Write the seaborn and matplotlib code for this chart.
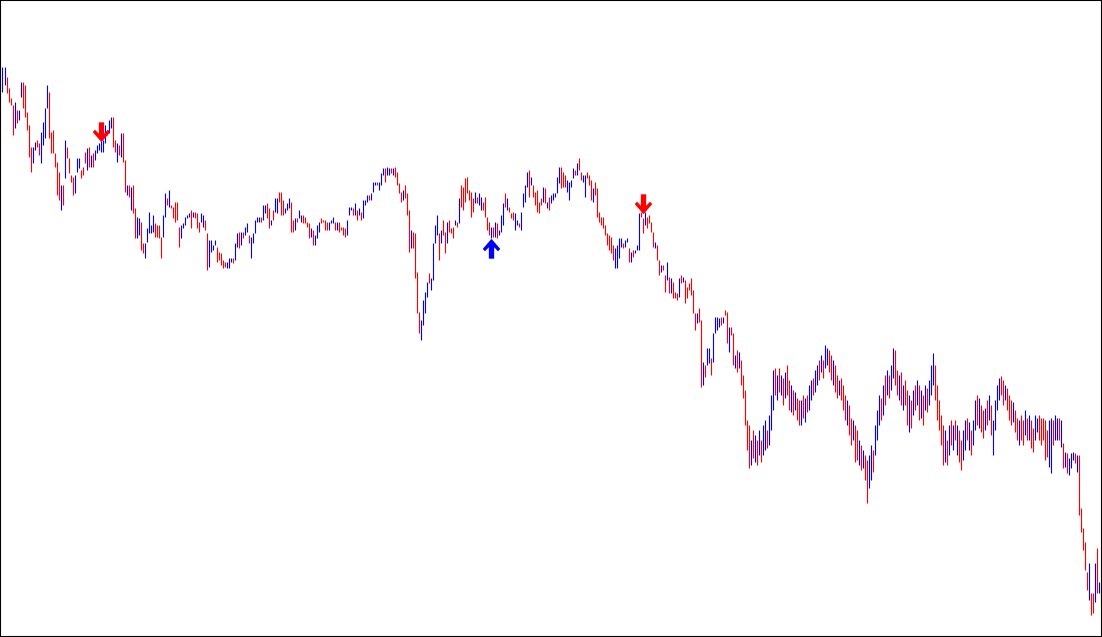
import numpy as np
import pandas as pd
import matplotlib
matplotlib.use('Agg')
import matplotlib.pyplot as plt
from matplotlib.path import Path
import seaborn as sns

# bar highs / lows (price points), one row = 10 bars
highs = [
    933, 933, 923, 912, 902, 895, 898, 890, 890, 918,
    918, 915, 888, 875, 853, 853, 858, 860, 857, 868,
    878, 892, 915, 908, 868, 870, 847, 838, 828, 815,
    815, 860, 853, 842, 825, 823, 825, 842, 842, 830,
    833, 848, 852, 853, 845, 847, 850, 855, 857, 863,
    860, 875, 870, 880, 883, 883, 860, 857, 855, 867,
    867, 840, 815, 815, 813, 815, 792, 783, 782, 778,
    757, 757, 772, 788, 775, 785, 777, 775, 775, 763,
    785, 807, 802, 810, 795, 793, 798, 798, 773, 775,
    777, 783, 785, 787, 790, 788, 788, 787, 778, 787,
    785, 780, 767, 760, 760, 755, 760, 753, 748, 747,
    740, 738, 738, 742, 742, 742, 757, 767, 768, 768,
    768, 773, 777, 765, 763, 767, 780, 783, 783, 783,
    795, 795, 797, 792, 780, 790, 802, 802, 808, 808,
    800, 792, 797, 802, 798, 780, 782, 782, 790, 785,
    785, 783, 778, 777, 772, 770, 765, 775, 778, 782,
    780, 780, 778, 778, 780, 783, 778, 778, 778, 773,
    773, 772, 780, 793, 793, 792, 797, 790, 792, 788,
    800, 800, 805, 805, 807, 818, 818, 818, 818, 827,
    832, 832, 833, 832, 832, 832, 833, 828, 817, 808,
    810, 815, 807, 790, 770, 768, 767, 728, 688, 680,
    700, 708, 718, 727, 722, 757, 775, 785, 767, 770,
    780, 768, 778, 780, 772, 773, 780, 778, 802, 815,
    813, 822, 823, 810, 808, 802, 808, 803, 807, 803,
    798, 803, 783, 778, 773, 773, 778, 777, 770, 785,
    797, 807, 802, 793, 787, 788, 787, 780, 777, 788,
    807, 815, 828, 830, 823, 815, 808, 810, 798, 802,
    813, 812, 798, 803, 805, 807, 807, 823, 833, 833,
    828, 825, 820, 818, 820, 832, 830, 837, 842, 828,
    825, 825, 828, 825, 820, 812, 818, 812, 788, 783,
    783, 775, 767, 765, 763, 755, 752, 755, 762, 762,
    757, 760, 762, 752, 748, 750, 750, 755, 787, 788,
    782, 788, 783, 785, 778, 768, 758, 755, 740, 735,
    735, 725, 738, 723, 722, 718, 708, 707, 722, 725,
    723, 720, 713, 717, 722, 710, 687, 687, 692, 680,
    638, 635, 652, 652, 642, 667, 683, 683, 682, 683,
    683, 690, 688, 673, 673, 667, 645, 650, 648, 640,
    625, 610, 580, 575, 560, 570, 565, 560, 570, 560,
    575, 580, 570, 585, 605, 630, 632, 625, 632, 625,
    622, 628, 635, 620, 615, 610, 608, 602, 600, 600,
    605, 602, 605, 615, 620, 622, 630, 635, 640, 645,
    640, 655, 652, 650, 645, 640, 635, 625, 620, 622,
    615, 605, 600, 595, 582, 580, 575, 570, 560, 555,
    550, 545, 540, 545, 555, 550, 575, 590, 605, 602,
    615, 625, 630, 625, 635, 652, 650, 630, 625, 628,
    615, 620, 610, 605, 600, 610, 615, 620, 615, 610,
    605, 615, 612, 620, 635, 647, 635, 615, 600, 585,
    575, 570, 560, 575, 580, 575, 580, 575, 570, 560,
    570, 580, 582, 578, 570, 580, 600, 605, 602, 595,
    590, 592, 600, 605, 595, 580, 600, 615, 622, 624,
    620, 615, 612, 605, 600, 598, 590, 582, 580, 585,
    580, 590, 582, 585, 580, 572, 585, 582, 585, 582,
    582, 580, 570, 580, 582, 580, 585, 582, 582, 580,
    557, 548, 547, 542, 547, 548, 547, 545, 545, 492,
    472, 458, 428, 437, 407, 407, 437, 452, 418, 413,
]

lows = [
    908, 915, 907, 898, 895, 865, 872, 877, 880, 903,
    892, 883, 870, 843, 828, 837, 850, 853, 845, 837,
    855, 862, 892, 862, 847, 847, 833, 805, 800, 790,
    795, 822, 842, 827, 818, 805, 807, 828, 832, 822,
    825, 837, 830, 833, 833, 833, 840, 847, 850, 848,
    848, 857, 865, 867, 872, 853, 848, 838, 845, 843,
    838, 808, 805, 803, 790, 787, 762, 762, 765, 750,
    747, 742, 758, 767, 767, 768, 763, 763, 762, 742,
    763, 783, 795, 793, 792, 782, 778, 780, 753, 762,
    772, 775, 782, 783, 772, 783, 782, 772, 768, 778,
    773, 770, 730, 733, 748, 750, 755, 738, 740, 735,
    732, 733, 732, 732, 738, 737, 740, 753, 752, 755,
    762, 765, 768, 757, 742, 757, 767, 778, 778, 778,
    780, 787, 782, 772, 775, 780, 788, 787, 798, 785,
    785, 787, 790, 792, 768, 768, 770, 778, 782, 778,
    777, 777, 773, 762, 763, 755, 755, 762, 768, 777,
    778, 770, 770, 770, 777, 777, 770, 770, 768, 770,
    765, 763, 765, 785, 790, 785, 785, 780, 785, 780,
    782, 795, 798, 800, 800, 808, 815, 815, 810, 815,
    825, 818, 825, 825, 827, 825, 823, 815, 807, 798,
    800, 802, 785, 748, 752, 752, 722, 687, 667, 660,
    675, 687, 703, 717, 710, 720, 757, 765, 740, 757,
    765, 747, 757, 768, 767, 762, 775, 773, 777, 793,
    790, 798, 807, 800, 783, 788, 797, 797, 795, 790,
    790, 783, 770, 765, 762, 763, 763, 762, 765, 768,
    775, 793, 790, 788, 782, 780, 770, 775, 773, 770,
    793, 798, 813, 803, 815, 803, 795, 788, 787, 795,
    798, 797, 792, 790, 797, 800, 803, 807, 817, 812,
    813, 813, 808, 800, 813, 822, 825, 825, 830, 820,
    818, 803, 822, 815, 800, 798, 805, 783, 778, 775,
    772, 765, 755, 750, 747, 740, 732, 732, 742, 753,
    752, 753, 758, 738, 738, 743, 747, 750, 750, 783,
    767, 775, 772, 777, 768, 753, 752, 740, 725, 728,
    730, 708, 720, 707, 707, 702, 702, 700, 703, 717,
    718, 697, 702, 710, 705, 687, 670, 677, 678, 613,
    615, 623, 635, 637, 625, 638, 667, 670, 673, 675,
    677, 685, 657, 648, 665, 635, 632, 628, 632, 615,
    602, 575, 550, 532, 535, 542, 538, 535, 545, 538,
    545, 550, 552, 555, 570, 590, 605, 600, 608, 605,
    595, 602, 605, 590, 588, 585, 590, 580, 575, 575,
    582, 578, 588, 590, 600, 605, 608, 615, 620, 628,
    622, 632, 635, 628, 620, 615, 608, 602, 605, 600,
    590, 580, 575, 565, 555, 560, 538, 540, 535, 530,
    532, 520, 497, 512, 520, 528, 545, 560, 575, 580,
    585, 595, 605, 602, 610, 622, 615, 605, 600, 595,
    590, 595, 575, 568, 572, 585, 590, 595, 580, 582,
    575, 590, 588, 595, 605, 615, 600, 580, 570, 555,
    535, 538, 535, 545, 555, 550, 560, 545, 538, 530,
    540, 550, 560, 550, 545, 555, 570, 575, 572, 568,
    562, 570, 575, 580, 565, 545, 570, 590, 600, 605,
    595, 600, 590, 580, 575, 578, 568, 560, 555, 560,
    555, 565, 560, 560, 552, 548, 560, 568, 560, 555,
    560, 540, 543, 533, 527, 555, 560, 560, 560, 553,
    532, 533, 527, 525, 532, 540, 537, 528, 485, 468,
    450, 430, 410, 400, 385, 387, 398, 407, 407, 393,
]

# 1 = up bar (blue), 0 = down bar (red)
up = [
    1, 1, 0, 0, 0, 0, 1, 0, 1, 1,
    0, 0, 0, 0, 0, 1, 1, 0, 0, 1,
    1, 1, 1, 0, 0, 0, 0, 0, 0, 1,
    0, 1, 0, 0, 0, 0, 1, 1, 1, 0,
    0, 0, 1, 0, 1, 0, 1, 1, 1, 1,
    1, 1, 0, 1, 1, 0, 0, 1, 0, 1,
    0, 0, 1, 0, 1, 0, 0, 1, 1, 0,
    0, 1, 1, 1, 1, 1, 0, 0, 0, 0,
    1, 1, 0, 1, 0, 0, 0, 0, 0, 1,
    1, 1, 1, 1, 0, 1, 0, 0, 0, 1,
    1, 0, 0, 1, 1, 1, 1, 0, 0, 0,
    0, 0, 1, 1, 1, 0, 1, 1, 0, 1,
    0, 1, 1, 0, 1, 1, 1, 1, 1, 0,
    1, 1, 0, 0, 1, 0, 1, 1, 0, 0,
    0, 1, 1, 1, 0, 0, 1, 0, 1, 1,
    0, 0, 0, 0, 1, 0, 1, 1, 1, 0,
    0, 0, 0, 1, 1, 1, 0, 1, 0, 0,
    0, 0, 1, 1, 1, 0, 1, 0, 1, 0,
    1, 1, 1, 0, 1, 1, 1, 0, 1, 1,
    1, 0, 1, 1, 0, 1, 0, 0, 0, 0,
    1, 0, 0, 0, 1, 0, 0, 0, 0, 1,
    1, 1, 1, 0, 1, 1, 1, 1, 0, 1,
    0, 0, 1, 0, 0, 0, 1, 0, 1, 0,
    0, 0, 0, 0, 0, 0, 1, 0, 1, 1,
    0, 0, 0, 0, 1, 0, 1, 0, 1, 1,
    1, 0, 1, 0, 0, 0, 1, 1, 0, 1,
    1, 1, 1, 0, 1, 0, 0, 0, 0, 0,
    1, 0, 1, 0, 1, 1, 1, 1, 1, 0,
    0, 0, 1, 1, 1, 1, 0, 1, 0, 0,
    1, 1, 0, 0, 0, 1, 0, 0, 0, 0,
    0, 0, 0, 0, 0, 0, 1, 1, 1, 1,
    0, 1, 1, 0, 1, 0, 1, 1, 1, 0,
    0, 1, 0, 0, 0, 0, 1, 0, 0, 1,
    0, 0, 1, 0, 1, 0, 0, 0, 1, 0,
    1, 0, 0, 0, 0, 0, 0, 1, 0, 0,
    1, 0, 1, 1, 0, 1, 1, 1, 1, 0,
    1, 0, 0, 1, 0, 0, 1, 0, 1, 0,
    0, 0, 0, 0, 1, 0, 1, 0, 1, 0,
    1, 1, 0, 1, 1, 1, 0, 1, 0, 1,
    0, 1, 0, 0, 1, 0, 1, 0, 0, 1,
    0, 1, 0, 1, 1, 0, 1, 1, 0, 1,
    0, 1, 1, 0, 0, 1, 0, 0, 1, 0,
    0, 0, 1, 0, 0, 1, 0, 0, 1, 0,
    1, 0, 0, 1, 1, 0, 1, 1, 1, 0,
    1, 0, 1, 0, 1, 1, 0, 0, 1, 0,
    1, 0, 0, 1, 0, 1, 0, 1, 0, 1,
    0, 1, 0, 1, 1, 1, 0, 0, 0, 0,
    0, 1, 0, 1, 0, 1, 0, 1, 0, 0,
    1, 1, 0, 1, 0, 1, 1, 0, 1, 0,
    0, 1, 0, 1, 0, 1, 1, 1, 1, 0,
    0, 1, 0, 0, 0, 1, 0, 0, 1, 0,
    0, 1, 0, 1, 0, 0, 1, 1, 0, 0,
    0, 0, 0, 1, 1, 0, 1, 1, 0, 1,
    0, 1, 0, 1, 1, 1, 0, 1, 0, 0,
    0, 0, 0, 1, 0, 0, 1, 0, 1, 0,
]

# signal arrows
signal_bar = [49, 244, 320]
signal_level = [868, 752, 796]
signal_dir = ['sell', 'buy', 'sell']

sns.set_style('white')

n = len(highs)
bars = pd.DataFrame({
    'bar': np.repeat(np.arange(n), 2),
    'price': np.column_stack([lows, highs]).ravel(),
    'dir': np.repeat(np.where(np.array(up) == 1, 'up', 'down'), 2),
})

fig = plt.figure(figsize=(11.02, 6.37), dpi=100)
ax = fig.add_axes([0, 0, 1, 1])

sns.lineplot(data=bars, x='bar', y='price', units='bar', estimator=None,
             hue='dir', palette={'up': '#0000ff', 'down': '#ff0000'},
             linewidth=0.8, solid_capstyle='butt', legend=False, ax=ax)

# thick arrow marker (pointing down), flipped for the buy signal
arrow_pts = [(-0.26, 1.0), (0.26, 1.0), (0.26, -0.12), (0.64, 0.28),
             (0.86, 0.04), (0.0, -0.95), (-0.86, 0.04), (-0.64, 0.28),
             (-0.26, -0.12), (-0.26, 1.0)]
down_arrow = Path(arrow_pts, closed=True)
up_arrow = Path([(x, -y) for x, y in arrow_pts], closed=True)

sig = pd.DataFrame({'bar': signal_bar, 'price': signal_level, 'dir': signal_dir})
sns.scatterplot(data=sig[sig.dir == 'sell'], x='bar', y='price', marker=down_arrow,
                color='#ff0000', s=215, linewidth=0, ax=ax, zorder=5)
sns.scatterplot(data=sig[sig.dir == 'buy'], x='bar', y='price', marker=up_arrow,
                color='#0000ff', s=215, linewidth=0, ax=ax, zorder=5)

ax.set_xlim(-1.25, n - 0.25)
ax.set_ylim(363, 1000)
ax.set_xticks([])
ax.set_yticks([])
ax.set_xlabel('')
ax.set_ylabel('')
for sp in ax.spines.values():
    sp.set_visible(True)
    sp.set_color('black')
    sp.set_linewidth(1.5)

fig.savefig('out.png', dpi=100)
